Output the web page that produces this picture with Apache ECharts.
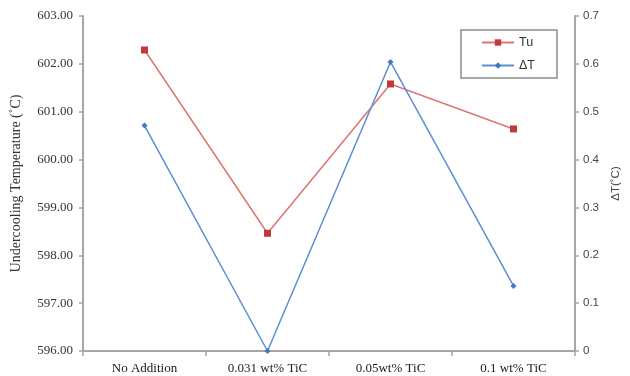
<!DOCTYPE html>
<html><head><meta charset="utf-8">
<script src="https://cdn.jsdelivr.net/npm/echarts@6/dist/echarts.min.js"></script>
<style>html,body{margin:0;padding:0;background:#fff}#c{width:630px;height:376px}</style>
</head><body><div id="c"></div>
<script>
const categories = ['No Addition', '0.031 wt% TiC', '0.05wt% TiC', '0.1 wt% TiC'];
const tuValues = [602.29, 598.46, 601.58, 600.64];
const dtValues = [0.471, 0.0, 0.604, 0.136];
const leftAxisName = 'Undercooling Temperature (˚C)';
const rightAxisName = 'ΔT(˚C)';

const chart = echarts.init(document.getElementById('c'));
const axisLine = {show: true, lineStyle: {color: '#a6a6a6', width: 2}};
chart.setOption({
  animation: false,
  grid: {left: 83, right: 55, top: 16, bottom: 25},
  legend: {
    orient: 'vertical', left: 461, top: 30,
    padding: [6, 22, 6, 20], itemGap: 10, itemWidth: 32, itemHeight: 8,
    borderColor: '#8c8c8c', borderWidth: 1.5,
    textStyle: {fontFamily: 'Liberation Sans', fontSize: 12.5, color: '#333'},
    data: ['Tu', 'ΔT']
  },
  xAxis: {
    type: 'category', data: categories, boundaryGap: true,
    axisLine: axisLine,
    axisTick: {show: true, length: 5, lineStyle: {color: '#a6a6a6', width: 1.5}},
    axisLabel: {fontFamily: 'Liberation Serif', fontSize: 13, color: '#222', margin: 11, interval: 0}
  },
  yAxis: [{
    type: 'value', min: 596, max: 603, interval: 1,
    name: leftAxisName, nameLocation: 'middle', nameGap: 60, nameRotate: 90,
    nameTextStyle: {fontFamily: 'Liberation Serif', fontSize: 14, color: '#333'},
    axisLine: axisLine, splitLine: {show: false},
    axisTick: {show: true, length: 4, lineStyle: {color: '#a6a6a6', width: 1.5}},
    axisLabel: {fontFamily: 'Liberation Serif', fontSize: 13, color: '#333', margin: 10,
      formatter: v => v.toFixed(2)}
  }, {
    type: 'value', min: 0, max: 0.7, interval: 0.1, position: 'right',
    name: rightAxisName, nameLocation: 'middle', nameGap: 30, nameRotate: 90,
    nameTextStyle: {fontFamily: 'Liberation Sans', fontSize: 11.5, color: '#444'},
    axisLine: axisLine, splitLine: {show: false},
    axisTick: {show: true, length: 4, lineStyle: {color: '#a6a6a6', width: 1.5}},
    axisLabel: {fontFamily: 'Liberation Sans', fontSize: 11.5, color: '#444', margin: 8,
      formatter: v => v === 0 ? '0' : String(Math.round(v * 10) / 10)}
  }],
  series: [{
    name: 'Tu', type: 'line', yAxisIndex: 0, data: tuValues,
    symbol: 'rect', symbolSize: 7,
    lineStyle: {color: '#dc7674', width: 1.5},
    itemStyle: {color: '#c0393b'}
  }, {
    name: 'ΔT', type: 'line', yAxisIndex: 1, data: dtValues,
    symbol: 'diamond', symbolSize: 6,
    lineStyle: {color: '#5b8fd4', width: 1.5},
    itemStyle: {color: '#3f78c4'}
  }]
});
</script></body></html>
